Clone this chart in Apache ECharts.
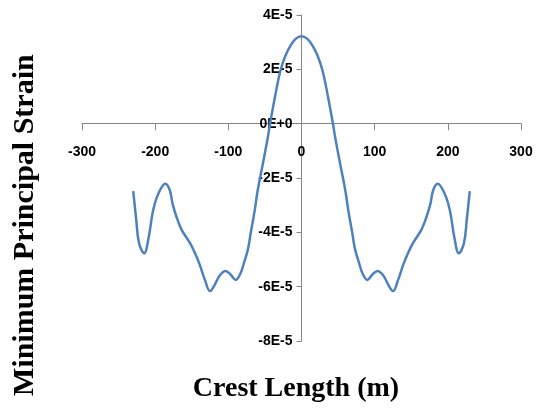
<!DOCTYPE html>
<html><head><meta charset="utf-8">
<script src="https://cdn.jsdelivr.net/npm/echarts@6/dist/echarts.min.js"></script>
<style>html,body{margin:0;padding:0;background:#fff}#c{width:540px;height:412px}</style>
</head><body><div id="c"></div>
<script>
const crestLength = [-230,-226,-222,-215,-209,-203,-196,-186,-180,-176,-170,-164,-157,-151,-145,-139,-132,-125,-119,-112,-104,-97,-90,-84,-78,-73,-69,-64,-60,-53,-46,-43,-36,-29,-22,-15,-8,0,
  8,15,22,29,36,43,46,53,60,64,69,73,78,84,90,97,104,112,119,125,132,139,145,151,157,164,170,176,180,186,196,203,209,215,222,226,230];
const minPrincipalStrain = [-2.48e-5,-3.5e-5,-4.4e-5,-4.77e-5,-4.2e-5,-3.22e-5,-2.6e-5,-2.21e-5,-2.45e-5,-2.97e-5,-3.5e-5,-3.9e-5,-4.2e-5,-4.46e-5,-4.8e-5,-5.2e-5,-5.75e-5,-6.16e-5,-5.95e-5,-5.6e-5,-5.42e-5,-5.55e-5,-5.75e-5,-5.55e-5,-5.07e-5,-4.6e-5,-3.96e-5,-3.2e-5,-2.48e-5,-1.5e-5,-0.5e-5,0,1.02e-5,1.93e-5,2.5e-5,2.87e-5,3.12e-5,3.22e-5,
  3.12e-5,2.87e-5,2.5e-5,1.93e-5,1.02e-5,0,-0.5e-5,-1.5e-5,-2.48e-5,-3.2e-5,-3.96e-5,-4.6e-5,-5.07e-5,-5.55e-5,-5.75e-5,-5.55e-5,-5.42e-5,-5.6e-5,-5.95e-5,-6.16e-5,-5.75e-5,-5.2e-5,-4.8e-5,-4.46e-5,-4.2e-5,-3.9e-5,-3.5e-5,-2.97e-5,-2.45e-5,-2.21e-5,-2.6e-5,-3.22e-5,-4.2e-5,-4.77e-5,-4.4e-5,-3.5e-5,-2.48e-5];
const xTitle = 'Crest Length (m)';
const yTitle = 'Minimum Principal Strain';

const chart = echarts.init(document.getElementById('c'));
const labelFont = {color:'#000', fontFamily:'"Liberation Sans Narrow","Liberation Sans",sans-serif', fontSize:14, fontWeight:'bold'};
chart.setOption({
  animation:false,
  grid:{left:82, right:19, top:15, bottom:71},
  xAxis:{type:'value', min:-300, max:300, interval:100, position:'bottom', offset:-217.7,
    axisLine:{onZero:false, lineStyle:{color:'#868686', width:1}},
    axisTick:{show:true, length:7, lineStyle:{color:'#868686'}},
    axisLabel:Object.assign({margin:22}, labelFont),
    splitLine:{show:false}},
  yAxis:{type:'value', min:-8e-5, max:4e-5, interval:2e-5, position:'left', offset:-219.5,
    axisLine:{show:true, onZero:false, lineStyle:{color:'#868686', width:1}},
    axisTick:{show:true, length:5, lineStyle:{color:'#868686'}},
    axisLabel:Object.assign({margin:9, formatter:v=>{const n=Math.round(v*1e5);return n===0?'0E+0':n+'E-5';}}, labelFont),
    splitLine:{show:false}},
  series:[{type:'line', smooth:0.4, showSymbol:false,
    data:crestLength.map((x,i)=>[x,minPrincipalStrain[i]]),
    lineStyle:{color:'#4F81BD', width:2.5}}],
  graphic:[
    {type:'text', x:296, y:375, style:{text:xTitle, font:'bold 28px "Liberation Serif",serif', fill:'#000', textAlign:'center', textVerticalAlign:'top'}},
    {type:'text', rotation:Math.PI/2, x:10, y:396, style:{text:yTitle, font:'bold 30px "Liberation Serif",serif', fill:'#000', textVerticalAlign:'top'}}
  ]
});
</script></body></html>
